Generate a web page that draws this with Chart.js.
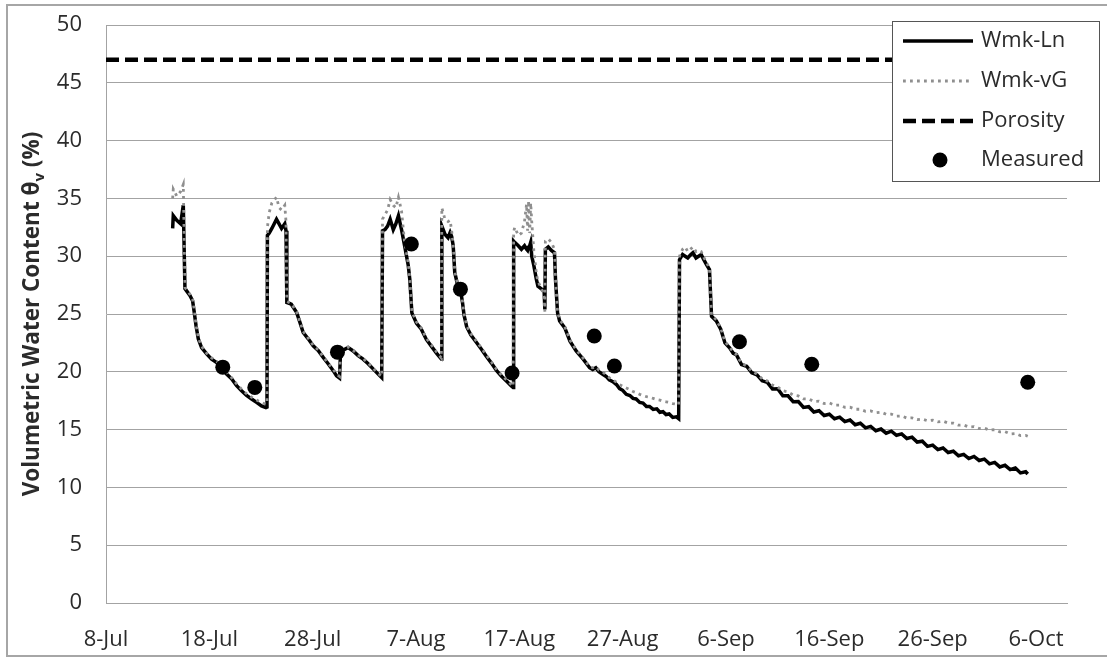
<!DOCTYPE html>
<html>
<head>
<meta charset="utf-8">
<title>Volumetric Water Content</title>
<script src="https://cdn.jsdelivr.net/npm/chart.js@4.4.1/dist/chart.umd.min.js"></script>
<style>
    html, body { margin: 0; padding: 0; background: #ffffff; }
    #grafico { display: block; }
</style>
</head>
<body>
<canvas id="grafico" width="1107" height="658"></canvas>
<script>
/* ================= DADOS ================= */
// tempo em dias contados a partir de 8-Jul
const simDays = [
    6.45, 6.51, 6.85, 7.22, 7.48, 7.64, 7.80, 8.12, 8.38, 8.54, 8.71, 8.93, 9.25, 9.74, 10.22, 10.71, 11.19, 11.67, 12.15, 12.64, 13.12, 13.6, 14.09, 14.57, 15.05, 15.47, 15.58,
    15.62, 15.8, 16.05, 16.5, 16.75, 16.99, 17.3, 17.42, 17.5, 17.93, 18.44, 18.76, 19.08, 19.57, 20.05, 20.53, 21.02, 21.5, 21.99, 22.31, 22.6, 22.7, 23.0, 23.43, 23.92, 24.4, 24.88, 25.37, 25.85, 26.34, 26.68,
    26.76, 27.0, 27.25, 27.5, 27.8, 28.05, 28.3, 28.6, 28.9, 29.25, 29.4, 29.6, 30.05, 30.5, 31.0, 31.5, 32.0, 32.45,
    32.5, 32.8, 33.1, 33.3, 33.45, 33.6, 33.75, 34.0, 34.3, 34.5, 34.65, 34.9, 35.3, 35.8, 36.3, 36.8, 37.3, 37.8, 38.3, 38.75, 39.2, 39.4,
    39.45, 39.55, 39.9, 40.2, 40.5, 40.7, 40.8, 40.9, 41.0, 41.1, 41.2, 41.4, 41.65, 41.8, 42.1, 42.4, 42.47,
    42.52, 42.8, 43.1, 43.4, 43.5, 43.7, 43.9, 44.4, 44.9, 45.5, 46.2, 46.8, 47.1, 47.4, 47.7, 48.1, 48.4, 48.7, 49.05, 49.4, 49.7, 50.0, 50.35, 50.7, 51.0, 51.3, 51.65, 51.97, 52.3, 52.6, 52.95, 53.3, 53.6, 53.9, 54.2, 54.5, 54.85, 55.2, 55.42,
    55.5, 55.8, 56.05, 56.3, 56.55, 56.8, 57.1, 57.35, 57.6, 57.85, 58.1, 58.4, 58.6, 59.06, 59.5, 59.9, 60.35, 60.7,
    61.0, 61.5, 62.0, 62.5, 63.0, 63.5, 64.0, 64.5, 65.0, 65.5, 66.0, 66.5, 67.0, 67.5, 68.0, 68.5, 69.0, 69.5, 70.0, 70.5,
    71.0, 71.5, 72.0, 72.5, 73.0, 73.5, 74.0, 74.5, 75.0, 75.5, 76.0, 76.5, 77.0, 77.5, 78.0, 78.5, 79.0, 79.5, 80.0, 80.5,
    81.0, 81.5, 82.0, 82.5, 83.0, 83.5, 84.0, 84.5, 85.0, 85.5, 86.0, 86.5, 87.0, 87.5, 88.0, 88.5, 89.0, 89.2
];

// Wmk-Ln (%)
const wmkLn = [
    32.4, 33.5, 33.1, 32.8, 34.4, 27.2, 27.0, 26.6, 26.15, 25.15, 24.0, 22.85, 22.1, 21.55, 21.1, 20.8, 20.4, 19.8, 19.4, 18.8, 18.35, 17.95, 17.65, 17.35, 17.05, 16.9, 16.95,
    31.8, 32.0, 32.4, 33.2, 32.8, 32.4, 32.8, 32.2, 26.0, 25.85, 25.15, 24.3, 23.4, 22.85, 22.25, 21.85, 21.25, 20.7, 20.1, 19.65, 19.45, 21.75, 21.9, 22.1, 21.8, 21.4, 21.1, 20.7, 20.25, 19.8, 19.5,
    32.2, 32.3, 32.6, 33.2, 32.3, 32.8, 33.5, 32.3, 30.9, 29.2, 28.0, 25.1, 24.2, 23.7, 22.8, 22.2, 21.6, 21.1,
    32.6, 31.9, 31.6, 32.05, 31.7, 30.9, 28.6, 27.6, 27.1, 26.0, 24.9, 23.9, 23.2, 22.6, 22.0, 21.35, 20.75, 20.1, 19.6, 19.2, 18.8, 18.65,
    31.3, 31.2, 30.9, 30.6, 30.9, 30.6, 30.5, 30.8, 30.9, 31.2, 30.0, 29.2, 28.0, 27.4, 27.2, 27.0, 25.4,
    30.6, 30.8, 30.5, 30.3, 28.0, 25.1, 24.4, 23.8, 22.65, 21.8, 21.07, 20.35, 20.2, 20.35, 20.0, 19.77, 19.6, 19.3, 19.15, 18.9, 18.55, 18.4, 18.05, 17.95, 17.7, 17.65, 17.35, 17.3, 17.0, 17.0, 16.75, 16.8, 16.5, 16.55, 16.3, 16.35, 16.05, 16.1, 15.95,
    29.7, 30.15, 30.0, 29.85, 30.1, 30.3, 29.85, 30.0, 30.15, 29.7, 29.3, 28.85, 24.8, 24.4, 23.66, 22.5, 22.07, 21.6,
    21.48, 20.62, 20.48, 19.92, 19.73, 19.22, 19.08, 18.52, 18.53, 17.92, 17.93, 17.42, 17.43, 16.92, 16.98, 16.52, 16.63, 16.22, 16.33, 15.94,
    16.08, 15.69, 15.83, 15.42, 15.55, 15.15, 15.28, 14.9, 15.05, 14.69, 14.86, 14.51, 14.63, 14.23, 14.35, 13.92, 14.0, 13.55, 13.66, 13.27,
    13.41, 13.02, 13.13, 12.74, 12.86, 12.5, 12.68, 12.33, 12.45, 12.04, 12.16, 11.77, 11.91, 11.54, 11.68, 11.25, 11.35, 11.16
];

// Wmk-vG (%)
const wmkVg = [
    35.0, 35.8, 35.2, 35.6, 36.2, 27.3, 27.1, 26.7, 26.3, 25.3, 24.1, 22.95, 22.2, 21.6, 21.2, 20.9, 20.5, 19.95, 19.5, 18.95, 18.5, 18.1, 17.8, 17.55, 17.35, 17.2, 17.3,
    32.5, 33.8, 34.6, 35.1, 34.2, 34.0, 34.4, 33.0, 26.1, 25.9, 25.2, 24.35, 23.5, 22.9, 22.3, 21.9, 21.3, 20.75, 20.2, 19.8, 19.6, 21.8, 22.0, 22.15, 21.85, 21.45, 21.15, 20.75, 20.3, 19.85, 19.6,
    33.2, 33.6, 34.0, 34.9, 34.4, 34.2, 35.1, 33.9, 31.2, 29.4, 28.1, 25.2, 24.3, 23.8, 22.9, 22.3, 21.7, 21.2,
    34.2, 33.2, 33.0, 33.1, 32.2, 31.0, 28.7, 27.7, 27.2, 26.1, 25.0, 24.0, 23.3, 22.7, 22.1, 21.45, 20.85, 20.2, 19.7, 19.3, 18.9, 18.75,
    32.1, 32.5, 31.8, 32.0, 33.0, 34.5, 32.2, 34.8, 32.0, 34.6, 33.0, 30.5, 28.5, 27.8, 27.3, 26.5, 25.2,
    31.3, 31.5, 31.2, 30.6, 28.1, 25.2, 24.5, 23.9, 22.75, 21.9, 21.15, 20.45, 20.35, 20.45, 20.15, 19.95, 19.75, 19.5, 19.3, 19.1, 18.9, 18.75, 18.6, 18.45, 18.3, 18.2, 18.05, 17.95, 17.85, 17.8, 17.7, 17.6, 17.55, 17.45, 17.4, 17.35, 17.25, 17.2, 17.15,
    30.0, 30.6, 30.8, 30.4, 30.6, 30.8, 30.4, 30.5, 30.4, 29.9, 29.5, 28.9, 24.9, 24.5, 23.75, 22.6, 22.15, 21.7,
    21.5, 20.75, 20.5, 20.05, 19.8, 19.4, 19.2, 18.85, 18.68, 18.36, 18.26, 17.98, 17.91, 17.66, 17.66, 17.44, 17.46, 17.26, 17.31, 17.11,
    17.12, 16.93, 16.94, 16.76, 16.76, 16.59, 16.62, 16.46, 16.51, 16.33, 16.34, 16.16, 16.18, 16.0, 16.02, 15.86, 15.91, 15.76, 15.82, 15.67,
    15.73, 15.56, 15.56, 15.38, 15.4, 15.23, 15.26, 15.09, 15.12, 14.96, 14.99, 14.8, 14.82, 14.63, 14.66, 14.48, 14.5, 14.43
];

// porosidade do solo (%)
const porosityDays = [0, 93];
const porosityVals = [47, 47];

// medições de campo
const measuredDays = [11.3, 14.4, 22.4, 29.55, 34.3, 39.3, 47.25, 49.2, 61.3, 68.3, 89.2];
const measuredVals = [20.4, 18.65, 21.7, 31.05, 27.15, 19.9, 23.1, 20.5, 22.6, 20.65, 19.1];

// rótulos do eixo X (a cada 10 dias)
const xTickLabels = ['8-Jul', '18-Jul', '28-Jul', '7-Aug', '17-Aug', '27-Aug', '6-Sep', '16-Sep', '26-Sep', '6-Oct'];

/* ================= ESTILO ================= */
const FONTE = '"Open Sans", "DejaVu Sans", sans-serif';
const COR_TEXTO = '#2b2b2b';
const COR_GRADE = '#a3a3a3';

function pares(xs, ys) {
    return xs.map(function (x, i) { return { x: x, y: ys[i] }; });
}

// fundo, moldura externa, título do eixo Y e legenda
var extras = {
    id: 'extras',
    beforeDraw: function (chart) {
        var ctx = chart.ctx;
        ctx.save();
        ctx.fillStyle = '#ffffff';
        ctx.fillRect(0, 0, chart.width, chart.height);
        ctx.restore();
    },
    afterDraw: function (chart) {
        var ctx = chart.ctx;
        var area = chart.chartArea;

        // moldura
        ctx.save();
        ctx.strokeStyle = '#a6a6a6';
        ctx.lineWidth = 2;
        ctx.strokeRect(7, 5, 1110, 651);
        ctx.restore();

        // título do eixo Y com subscrito
        ctx.save();
        ctx.translate(33, (area.top + area.bottom) / 2);
        ctx.rotate(-Math.PI / 2);
        ctx.fillStyle = COR_TEXTO;
        ctx.textBaseline = 'middle';
        ctx.textAlign = 'left';
        var fTitulo = 'bold 22.5px ' + FONTE;
        var fSub = 'bold 15px ' + FONTE;
        var t1 = 'Volumetric Water Content \u03b8', t2 = 'v', t3 = ' (%)';
        ctx.font = fTitulo;
        var w1 = ctx.measureText(t1).width, w3 = ctx.measureText(t3).width;
        ctx.font = fSub;
        var w2 = ctx.measureText(t2).width;
        var x0 = -(w1 + w2 + w3) / 2;
        ctx.font = fTitulo;
        ctx.fillText(t1, x0, 0);
        ctx.font = fSub;
        ctx.fillText(t2, x0 + w1, 7);
        ctx.font = fTitulo;
        ctx.fillText(t3, x0 + w1 + w2, 0);
        ctx.restore();

        // legenda
        ctx.save();
        ctx.fillStyle = '#ffffff';
        ctx.fillRect(892.5, 21.5, 207, 160);
        ctx.strokeStyle = '#555555';
        ctx.lineWidth = 1;
        ctx.strokeRect(892.5, 21.5, 207, 160);
        var linhasY = [41, 81, 121, 160];
        chart.data.datasets.forEach(function (ds, i) {
            var y = linhasY[i];
            ctx.save();
            if (ds.showLine === false) {
                ctx.fillStyle = ds.pointBackgroundColor;
                ctx.beginPath();
                ctx.arc(940, y, ds.pointRadius, 0, Math.PI * 2);
                ctx.fill();
            } else {
                ctx.strokeStyle = ds.borderColor;
                ctx.lineWidth = ds.borderWidth;
                ctx.setLineDash(ds.borderDash || []);
                ctx.lineCap = 'butt';
                ctx.beginPath();
                ctx.moveTo(903, y);
                ctx.lineTo(973, y);
                ctx.stroke();
            }
            ctx.restore();
            ctx.fillStyle = COR_TEXTO;
            ctx.font = '22px ' + FONTE;
            ctx.textBaseline = 'middle';
            ctx.fillText(ds.label, 981, y);
        });
        ctx.restore();
    }
};

/* ================= GRÁFICO ================= */
var ctxGrafico = document.getElementById('grafico').getContext('2d');
var grafico = new Chart(ctxGrafico, {
    type: 'line',
    data: {
        datasets: [{
            label: 'Wmk-Ln',
            data: pares(simDays, wmkLn),
            borderColor: '#000000',
            borderWidth: 3.5,
            pointRadius: 0,
            order: 2
        }, {
            label: 'Wmk-vG',
            data: pares(simDays, wmkVg),
            borderColor: '#8f8f8f',
            borderWidth: 2.8,
            borderDash: [2.8, 4.2],
            pointRadius: 0,
            order: 1
        }, {
            label: 'Porosity',
            data: pares(porosityDays, porosityVals),
            borderColor: '#000000',
            borderWidth: 4.5,
            borderDash: [13, 6],
            pointRadius: 0,
            order: 3
        }, {
            label: 'Measured',
            data: pares(measuredDays, measuredVals),
            showLine: false,
            pointRadius: 7.5,
            pointBackgroundColor: '#000000',
            pointBorderWidth: 0,
            order: 0
        }]
    },
    options: {
        responsive: false,
        animation: false,
        layout: { padding: { left: 0, top: 25, right: 40, bottom: 0 } },
        plugins: {
            legend: { display: false },
            tooltip: { enabled: false }
        },
        elements: { line: { tension: 0 } },
        scales: {
            x: {
                type: 'linear',
                min: 0,
                max: 93,
                afterFit: function (axis) { axis.height = 55; },
                afterBuildTicks: function (axis) {
                    axis.ticks = xTickLabels.map(function (t, i) { return { value: i * 10 }; });
                },
                grid: { display: false },
                border: { display: true, color: COR_GRADE, width: 1 },
                ticks: {
                    padding: 16,
                    color: COR_TEXTO,
                    font: { family: FONTE, size: 22 },
                    maxRotation: 0,
                    callback: function (v) { return xTickLabels[Math.round(v / 10)]; }
                }
            },
            y: {
                min: 0,
                max: 50,
                // largura fixa e sem folga extra acima/abaixo do eixo
                afterFit: function (axis) {
                    axis.width = 106;
                    axis.paddingTop = 0;
                    axis.paddingBottom = 0;
                },
                grid: { color: COR_GRADE, lineWidth: 1, drawTicks: false },
                border: { display: true, color: COR_GRADE, width: 1 },
                ticks: {
                    stepSize: 5,
                    padding: 24,
                    color: COR_TEXTO,
                    font: { family: FONTE, size: 22 }
                }
            }
        }
    },
    plugins: [extras]
});
</script>
</body>
</html>
